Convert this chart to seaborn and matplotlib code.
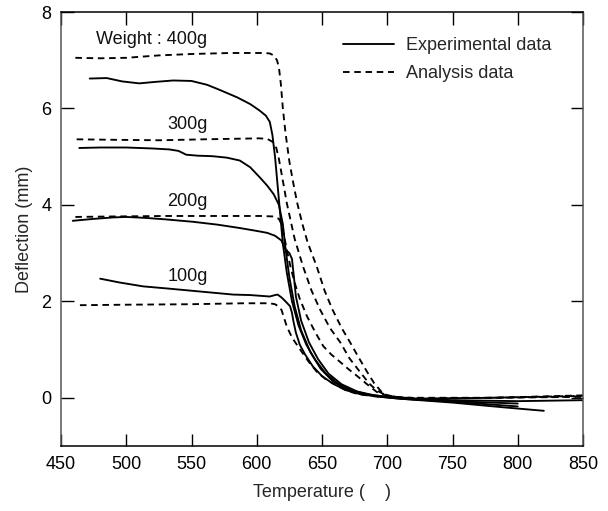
import matplotlib
matplotlib.use("Agg")
import matplotlib.pyplot as plt
from matplotlib.lines import Line2D
import numpy as np
import pandas as pd
import seaborn as sns

# Experimental deflection curves (temperature in deg C, deflection in mm)
exp_400_t = [472, 485, 497, 510, 522, 536, 550, 562, 572, 585, 595, 602, 607, 610, 612, 614, 616, 618, 620,
             623, 627, 632, 638, 645, 653, 662, 672, 685, 700, 720, 750, 780, 800]
exp_400_d = [6.62, 6.63, 6.56, 6.52, 6.55, 6.58, 6.57, 6.49, 6.38, 6.23, 6.09, 5.96, 5.85, 5.72, 5.45, 5.0, 4.4,
             3.8, 3.2, 2.6, 2.0, 1.5, 1.1, 0.78, 0.5, 0.3, 0.16, 0.07, 0.02, -0.03, -0.07, -0.1, -0.12]

exp_300_t = [464, 480, 500, 520, 533, 540, 546, 555, 566, 577, 587, 595, 602, 608, 613, 617, 620, 622, 625,
             629, 634, 641, 649, 658, 668, 680, 695, 710, 750, 790, 820]
exp_300_d = [5.18, 5.19, 5.19, 5.17, 5.15, 5.12, 5.04, 5.02, 5.01, 4.98, 4.92, 4.78, 4.58, 4.40, 4.22, 4.0,
             3.6, 3.1, 2.5, 1.9, 1.4, 0.95, 0.6, 0.35, 0.18, 0.08, 0.02, -0.02, -0.1, -0.2, -0.27]

exp_200_t = [459, 475, 490, 500, 515, 530, 551, 570, 587, 600, 608, 614, 619, 621, 623, 625, 627, 628.5, 630,
             634, 640, 647, 655, 665, 677, 690, 705, 750, 800, 850]
exp_200_d = [3.67, 3.71, 3.74, 3.75, 3.73, 3.70, 3.65, 3.59, 3.52, 3.46, 3.42, 3.36, 3.26, 3.12, 3.05, 3.0,
             2.88, 2.5, 2.1, 1.6, 1.15, 0.8, 0.5, 0.28, 0.13, 0.05, 0.0, -0.05, -0.07, -0.05]

exp_100_t = [480, 495, 513, 530, 550, 570, 582, 595, 605, 610, 614, 616, 619, 622, 625.5, 627, 628, 630, 633,
             637, 643, 650, 658, 668, 680, 695, 710, 750, 800]
exp_100_d = [2.47, 2.39, 2.31, 2.27, 2.22, 2.17, 2.14, 2.13, 2.11, 2.10, 2.13, 2.14, 2.08, 2.0, 1.90, 1.76,
             1.6, 1.35, 1.1, 0.9, 0.65, 0.45, 0.3, 0.16, 0.07, 0.02, -0.02, -0.08, -0.18]

# Analysis (simulated) deflection curves
ana_400_t = [461, 480, 500, 525, 551, 580, 606, 610, 613, 615.5, 617, 618.5, 620, 622, 625, 628, 631, 635, 639,
             646, 652, 658, 665, 671.5, 678, 684.5, 690, 697, 705, 730, 780, 850]
ana_400_d = [7.05, 7.04, 7.05, 7.10, 7.13, 7.15, 7.15, 7.14, 7.10, 7.0, 6.85, 6.5, 6.0, 5.5, 4.9, 4.45, 4.04,
             3.6, 3.22, 2.72, 2.22, 1.83, 1.45, 1.15, 0.84, 0.54, 0.3, 0.08, 0.02, -0.02, 0.0, 0.05]

ana_300_t = [462, 490, 526, 560, 602, 608, 612, 615, 617, 619, 621, 623, 629, 635.5, 642, 648.5, 656, 664, 671,
             679, 686, 692, 700, 720, 780, 850]
ana_300_d = [5.36, 5.35, 5.34, 5.36, 5.38, 5.37, 5.31, 5.18, 4.95, 4.65, 4.35, 4.04, 3.3, 2.72, 2.22, 1.83,
             1.45, 1.15, 0.82, 0.54, 0.3, 0.15, 0.04, -0.02, 0.0, 0.04]

ana_200_t = [461, 490, 530, 570, 602.5, 613, 617, 619, 621, 623, 626, 629, 633, 638.5, 645, 651, 657, 664, 670,
             677, 685, 692, 700, 720, 780, 850]
ana_200_d = [3.75, 3.76, 3.77, 3.77, 3.77, 3.76, 3.71, 3.6, 3.35, 3.07, 2.7, 2.39, 2.05, 1.69, 1.35, 1.07,
             0.9, 0.74, 0.6, 0.45, 0.27, 0.12, 0.04, -0.02, 0.0, 0.03]

ana_100_t = [464.5, 500, 549, 590, 610, 614, 617, 619, 621, 623, 627, 633, 640, 646, 653, 661.5, 669, 677, 690,
             710, 780, 850]
ana_100_d = [1.92, 1.93, 1.94, 1.96, 1.96, 1.94, 1.89, 1.82, 1.65, 1.48, 1.25, 1.01, 0.74, 0.54, 0.38, 0.25,
             0.15, 0.08, 0.03, 0.0, 0.0, 0.02]

weight_labels = ["Weight : 400g", "300g", "200g", "100g"]
label_t = [519.5, 547, 547, 547]
label_d = [7.44, 5.67, 4.06, 2.52]

x_ticks = [450, 500, 550, 600, 650, 700, 750, 800, 850]
y_ticks = [0, 2, 4, 6, 8]

curves = [
    ("Experimental data", "400g", exp_400_t, exp_400_d),
    ("Experimental data", "300g", exp_300_t, exp_300_d),
    ("Experimental data", "200g", exp_200_t, exp_200_d),
    ("Experimental data", "100g", exp_100_t, exp_100_d),
    ("Analysis data", "400g", ana_400_t, ana_400_d),
    ("Analysis data", "300g", ana_300_t, ana_300_d),
    ("Analysis data", "200g", ana_200_t, ana_200_d),
    ("Analysis data", "100g", ana_100_t, ana_100_d),
]
frames = []
for kind, w, t, d in curves:
    frames.append(pd.DataFrame({"Temperature": t, "Deflection": d, "Kind": kind, "Run": kind + w}))
df = pd.concat(frames, ignore_index=True)

sns.set_style("ticks")
plt.rcParams["font.family"] = ["Liberation Sans", "DejaVu Sans"]

FS = 13

fig = plt.figure(figsize=(6.08, 5.11), dpi=100)
ax = fig.add_axes([61 / 608, 1 - 446 / 511, (583 - 61) / 608, (446 - 12) / 511])

sns.lineplot(data=df, x="Temperature", y="Deflection", units="Run", estimator=None, sort=False,
             style="Kind", dashes={"Experimental data": "", "Analysis data": (3.5, 2.5)},
             color="black", linewidth=1.35, legend=False, ax=ax)

for txt, tx, ty in zip(weight_labels, label_t, label_d):
    ax.text(tx, ty, txt, ha="center", va="center", fontsize=FS, color="#111111")

handles = [Line2D([], [], color="black", lw=1.35, ls="-"),
           Line2D([], [], color="black", lw=1.35, ls=(0, (3.5, 2.5)))]
ax.legend(handles, ["Experimental data", "Analysis data"], loc="upper left", frameon=False,
          fontsize=FS, handlelength=2.85, handletextpad=0.65, borderaxespad=0.0, borderpad=0.0,
          bbox_to_anchor=((343 - 61) / 522, (446 - 37) / 434), labelspacing=0.6)

ax.set_xlim(450, 850)
ax.set_ylim(-1, 8)
ax.set_xticks(x_ticks)
ax.set_yticks(y_ticks)
ax.set_xticklabels([str(v) for v in x_ticks])
ax.set_yticklabels([str(v) for v in y_ticks])
ax.tick_params(direction="in", length=9, width=1, top=True, right=True, labelsize=FS, pad=7,
               colors="black")
ax.set_xlabel("Temperature (    )", fontsize=FS, labelpad=8)
ax.set_ylabel("Deflection (mm)", fontsize=FS, labelpad=6)
for side in ["top", "bottom"]:
    ax.spines[side].set_color("black")
for side in ["left", "right"]:
    ax.spines[side].set_color("#555555")
for s in ax.spines.values():
    s.set_linewidth(1.1)

fig.savefig("out.png", dpi=100)
